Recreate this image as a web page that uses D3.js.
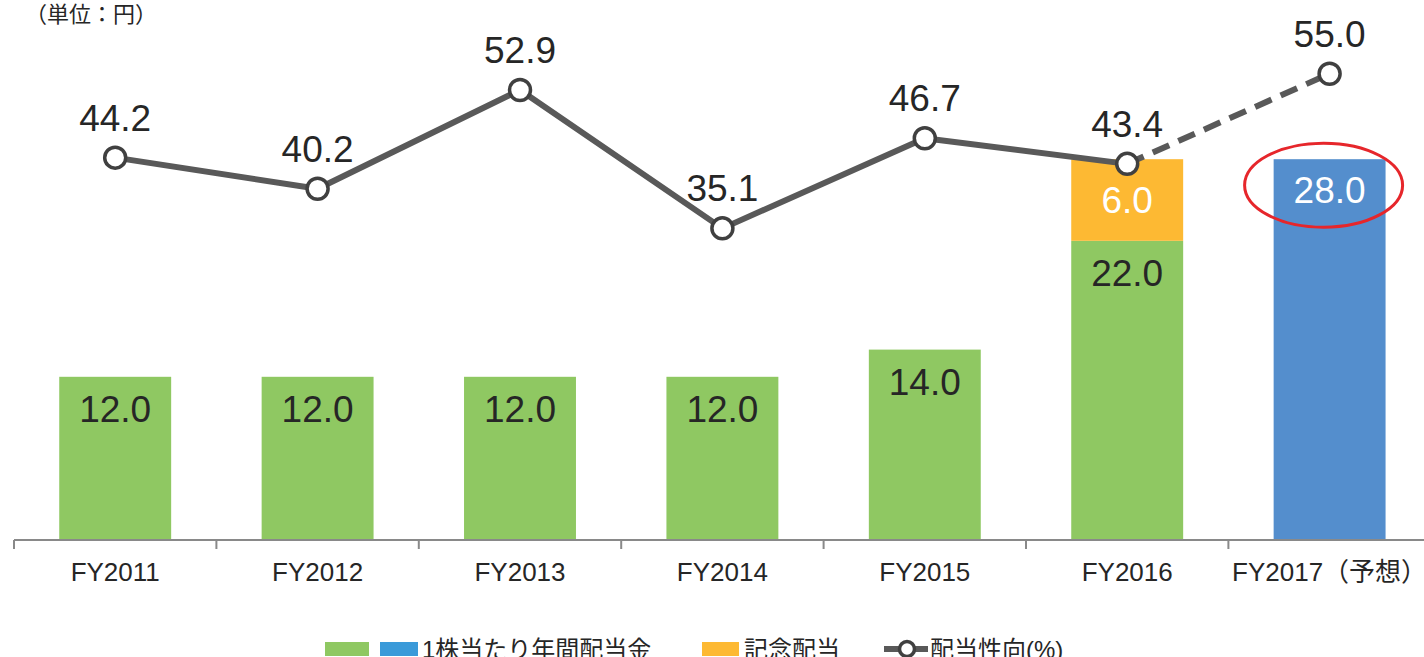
<!DOCTYPE html>
<html>
<head>
<meta charset="utf-8">
<script src="https://cdn.jsdelivr.net/npm/d3@7"></script>
<style>
  html, body { margin: 0; padding: 0; background: #fff; overflow: hidden; }
  svg { display: block; font-family: "Liberation Sans", Arial, "Noto Sans CJK JP", sans-serif; }
</style>
</head>
<body>
<div id="chart"></div>
<script>
// values
const categories = ['FY2011', 'FY2012', 'FY2013', 'FY2014', 'FY2015', 'FY2016', 'FY2017（予想）'];
const regularDividend = [12.0, 12.0, 12.0, 12.0, 14.0, 22.0, null];
const forecastDividend = [null, null, null, null, null, null, 28.0];
const commemorative = [null, null, null, null, null, 6.0, null];
const payoutRatio = [44.2, 40.2, 52.9, 35.1, 46.7, 43.4, 55.0];
const legendLabels = ['1株当たり年間配当金', '記念配当', '配当性向(%)'];
const unitLabel = '（単位：円）';

const width = 1424, height = 657;
const baseY = 540, topY = -4;
const colors = { green: '#8fc862', blue: '#548ecd', legendBlue: '#3a9ad9', orange: '#fdb933', line: '#595959', text: '#262626' };

const svg = d3.select('#chart')
  .append('svg')
    .attr('width', width)
    .attr('height', height);

const x = d3.scaleBand()
  .domain(categories)
  .range([14, 14 + 202.4 * categories.length])
  .padding(0);

const barW = x.bandwidth() * 0.553;
const barX = c => x(c) + (x.bandwidth() - barW) / 2;
const cx = c => x(c) + x.bandwidth() / 2;

const y = d3.scaleLinear().domain([0, 40]).range([baseY, topY]);
const y2 = d3.scaleLinear().domain([-5, 65]).range([baseY, topY]);

// unit label
svg.append('text')
  .attr('x', 25)
  .attr('y', 22)
  .attr('font-size', 22)
  .attr('fill', colors.text)
  .text(unitLabel);

// bars
const rows = categories.map((c, i) => ({
  cat: c,
  regular: regularDividend[i],
  forecast: forecastDividend[i],
  extra: commemorative[i]
}));

const bars = svg.append('g').attr('class', 'bars');

bars.selectAll('.bar-regular')
  .data(rows.filter(d => d.regular != null))
  .enter()
  .append('rect')
    .attr('class', 'bar-regular')
    .attr('x', d => barX(d.cat))
    .attr('y', d => y(d.regular))
    .attr('width', barW)
    .attr('height', d => baseY - y(d.regular))
    .attr('fill', colors.green);

bars.selectAll('.bar-extra')
  .data(rows.filter(d => d.extra != null))
  .enter()
  .append('rect')
    .attr('class', 'bar-extra')
    .attr('x', d => barX(d.cat))
    .attr('y', d => y(d.regular + d.extra))
    .attr('width', barW)
    .attr('height', d => y(d.regular) - y(d.regular + d.extra))
    .attr('fill', colors.orange);

bars.selectAll('.bar-forecast')
  .data(rows.filter(d => d.forecast != null))
  .enter()
  .append('rect')
    .attr('class', 'bar-forecast')
    .attr('x', d => barX(d.cat))
    .attr('y', d => y(d.forecast))
    .attr('width', barW)
    .attr('height', d => baseY - y(d.forecast))
    .attr('fill', colors.blue);

// bar labels
const labelSize = 37;
bars.selectAll('.lbl-regular')
  .data(rows.filter(d => d.regular != null))
  .enter()
  .append('text')
    .attr('x', d => cx(d.cat))
    .attr('y', d => y(d.regular) + 45)
    .attr('text-anchor', 'middle')
    .attr('font-size', labelSize)
    .attr('fill', colors.text)
    .text(d => d.regular.toFixed(1));

bars.selectAll('.lbl-extra')
  .data(rows.filter(d => d.extra != null))
  .enter()
  .append('text')
    .attr('x', d => cx(d.cat))
    .attr('y', d => (y(d.regular) + y(d.regular + d.extra)) / 2 + 13)
    .attr('text-anchor', 'middle')
    .attr('font-size', labelSize)
    .attr('fill', '#fff')
    .text(d => d.extra.toFixed(1));

bars.selectAll('.lbl-forecast')
  .data(rows.filter(d => d.forecast != null))
  .enter()
  .append('text')
    .attr('x', d => cx(d.cat))
    .attr('y', d => y(d.forecast) + 44)
    .attr('text-anchor', 'middle')
    .attr('font-size', labelSize)
    .attr('fill', '#fff')
    .text(d => d.forecast.toFixed(1));

// highlight ellipse around the forecast
const fc = categories[categories.length - 1];
svg.append('ellipse')
  .attr('cx', cx(fc) - 6)
  .attr('cy', y(forecastDividend[6]) + 26)
  .attr('rx', 79)
  .attr('ry', 42)
  .attr('fill', 'none')
  .attr('stroke', '#e6262b')
  .attr('stroke-width', 3);

// axis
const axis = svg.append('g').attr('class', 'axis');
axis.append('line')
  .attr('x1', 14).attr('x2', width)
  .attr('y1', baseY).attr('y2', baseY)
  .attr('stroke', '#898989').attr('stroke-width', 2);

axis.selectAll('.tick')
  .data(categories)
  .enter()
  .append('line')
    .attr('x1', d => x(d)).attr('x2', d => x(d))
    .attr('y1', baseY).attr('y2', baseY + 9)
    .attr('stroke', '#898989').attr('stroke-width', 2);

axis.selectAll('.tick-label')
  .data(categories)
  .enter()
  .append('text')
    .attr('x', d => cx(d))
    .attr('y', 581)
    .attr('text-anchor', 'middle')
    .attr('font-size', 26)
    .attr('fill', colors.text)
    .text(d => d);

// payout ratio line
const pts = categories.map((c, i) => ({ cat: c, v: payoutRatio[i] }));
const line = d3.line().x(d => cx(d.cat)).y(d => y2(d.v));

svg.append('path')
  .datum(pts.slice(0, 6))
  .attr('d', line)
  .attr('fill', 'none')
  .attr('stroke', colors.line)
  .attr('stroke-width', 6)
  .attr('stroke-linejoin', 'round');

svg.append('path')
  .datum(pts.slice(5))
  .attr('d', line)
  .attr('fill', 'none')
  .attr('stroke', colors.line)
  .attr('stroke-width', 6)
  .attr('stroke-dasharray', '18,10');

svg.selectAll('.marker')
  .data(pts)
  .enter()
  .append('circle')
    .attr('cx', d => cx(d.cat))
    .attr('cy', d => y2(d.v))
    .attr('r', 10.5)
    .attr('fill', '#fff')
    .attr('stroke', '#404040')
    .attr('stroke-width', 3.5);

svg.selectAll('.line-label')
  .data(pts)
  .enter()
  .append('text')
    .attr('x', d => cx(d.cat))
    .attr('y', d => y2(d.v) - 27)
    .attr('text-anchor', 'middle')
    .attr('font-size', labelSize)
    .attr('fill', colors.text)
    .text(d => d.v.toFixed(1));

// legend
const legend = svg.append('g').attr('class', 'legend');
const ly = 649;
legend.append('rect').attr('x', 325).attr('y', ly - 7).attr('width', 44).attr('height', 14).attr('fill', colors.green);
legend.append('rect').attr('x', 380).attr('y', ly - 7).attr('width', 38).attr('height', 14).attr('fill', colors.legendBlue);
legend.append('text').attr('x', 422).attr('y', ly + 9).attr('font-size', 24).attr('fill', colors.text).text(legendLabels[0]);
legend.append('rect').attr('x', 702).attr('y', ly - 7).attr('width', 37).attr('height', 14).attr('fill', colors.orange);
legend.append('text').attr('x', 744).attr('y', ly + 9).attr('font-size', 24).attr('fill', colors.text).text(legendLabels[1]);
legend.append('line').attr('x1', 884).attr('x2', 928).attr('y1', ly).attr('y2', ly)
  .attr('stroke', colors.line).attr('stroke-width', 6);
legend.append('circle').attr('cx', 907).attr('cy', ly).attr('r', 7.5)
  .attr('fill', '#fff').attr('stroke', '#404040').attr('stroke-width', 3.5);
legend.append('text').attr('x', 930).attr('y', ly + 9).attr('font-size', 24).attr('fill', colors.text).text(legendLabels[2]);
</script>
</body>
</html>
